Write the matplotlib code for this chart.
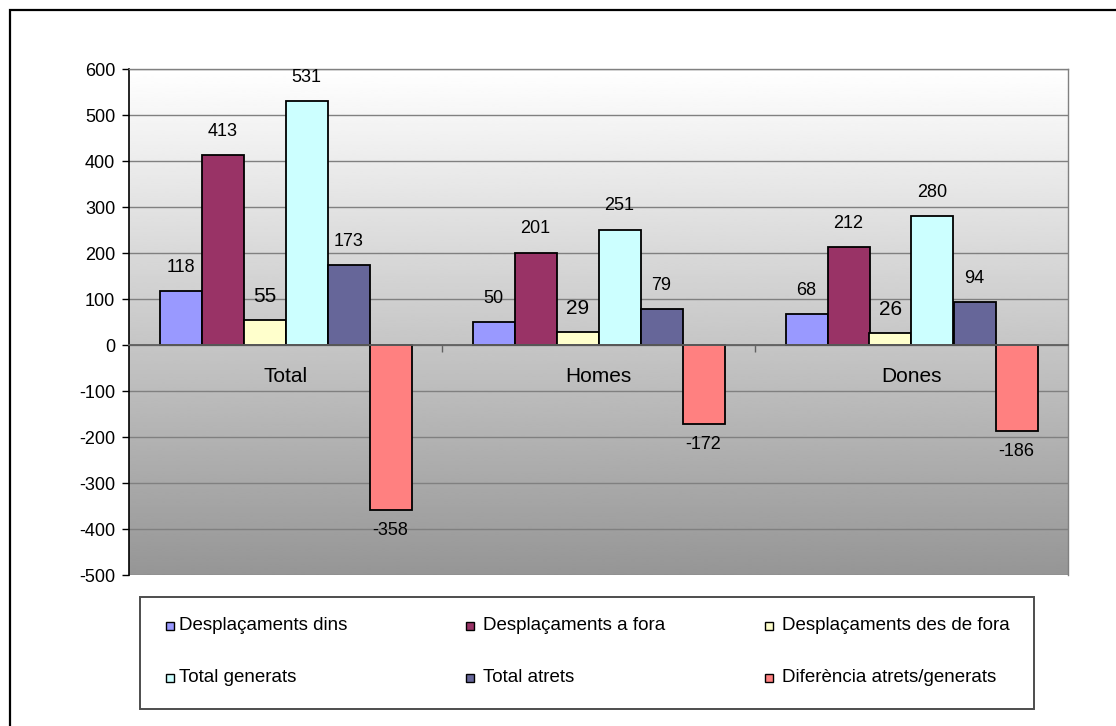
import numpy as np
import matplotlib
matplotlib.use("Agg")
import matplotlib.pyplot as plt
from matplotlib.patches import Rectangle

plt.rcParams['font.family'] = ['Liberation Sans', 'DejaVu Sans']
plt.rcParams['axes.unicode_minus'] = False

# ---- data ----
categories = ['Total', 'Homes', 'Dones']
series_names = ['Desplaçaments dins', 'Desplaçaments a fora', 'Desplaçaments des de fora',
                'Total generats', 'Total atrets', 'Diferència atrets/generats']
desp_dins = [118, 50, 68]
desp_a_fora = [413, 201, 212]
desp_des_de_fora = [55, 29, 26]
total_generats = [531, 251, 280]
total_atrets = [173, 79, 94]
diferencia = [-358, -172, -186]
y_ticks = [600, 500, 400, 300, 200, 100, 0, -100, -200, -300, -400, -500]

series_values = [desp_dins, desp_a_fora, desp_des_de_fora,
                 total_generats, total_atrets, diferencia]
series_colors = ['#9999FF', '#993366', '#FFFFCC', '#CCFFFF', '#666699', '#FF8080']

W, H = 1116, 726
fig = plt.figure(figsize=(W / 100, H / 100), dpi=100)
fig.patch.set_facecolor('white')

def fx(px):
    return px / W

def fy(py):
    return 1 - py / H

# plot area
ax = fig.add_axes([fx(129), fy(575), fx(1068) - fx(129), fy(69) - fy(575)])
ymin, ymax = -500, 600
xmin, xmax = -0.5, len(categories) - 0.5
ax.set_xlim(xmin, xmax)
ax.set_ylim(ymin, ymax)

# vertical gradient background (white at top, grey at bottom)
grad = np.linspace(0.588, 1.0, 256).reshape(-1, 1)
ax.imshow(grad, extent=[xmin, xmax, ymin, ymax], origin='lower', aspect='auto',
          cmap='gray', vmin=0, vmax=1, zorder=0, interpolation='bilinear')

# gridlines
ax.set_yticks(y_ticks)
ax.yaxis.grid(True, color='#808080', linewidth=1.0, zorder=0.5)
ax.set_axisbelow(True)

# bars
n = len(series_values)
bar_w = 42 / 313
x = np.arange(len(categories))
for i, (vals, col, name) in enumerate(zip(series_values, series_colors, series_names)):
    pos = x + (i - (n - 1) / 2) * bar_w
    ax.bar(pos, vals, width=bar_w, color=col, edgecolor='black', linewidth=1.3,
           zorder=3, label=name)
    fsize = 15 if i == 2 else 13
    for xp, v in zip(pos, vals):
        off = 17 if v >= 0 else -15
        ax.annotate(str(v), (xp, v), xytext=(0, off), textcoords='offset points',
                    ha='center', va='center', fontsize=fsize, color='black', zorder=5)

# axes styling
for s in ['top', 'right']:
    ax.spines[s].set_color('#808080')
    ax.spines[s].set_linewidth(1.0)
ax.spines['left'].set_color('black')
ax.spines['left'].set_linewidth(1.2)
ax.spines['bottom'].set_position(('data', 0))
ax.spines['bottom'].set_color('#606060')
ax.spines['bottom'].set_linewidth(1.3)
ax.spines['bottom'].set_zorder(4)

ax.tick_params(axis='y', direction='out', length=5, width=1.0, pad=5,
               labelsize=13, colors='black')

# category axis: ticks at category boundaries, labels at centres
ax.set_xticks(np.arange(len(categories) - 1) + 0.5)
ax.set_xticklabels([])
ax.tick_params(axis='x', which='major', direction='out', length=5, width=1.0,
               color='#606060')
ax.set_xticks(x, minor=True)
ax.set_xticklabels(categories, minor=True)
ax.tick_params(axis='x', which='minor', length=0, pad=16, labelsize=15)

# legend box
fig.patches.append(Rectangle((fx(140), fy(709)), fx(1034) - fx(140), fy(597) - fy(709),
                             transform=fig.transFigure, facecolor='white',
                             edgecolor='#4d4d4d', linewidth=1.4, zorder=1))
col_marker_x = [166, 466, 765]
col_text_x = [179, 483, 782]
row_y = [626, 678]
msize = 8
for i, (name, col) in enumerate(zip(series_names, series_colors)):
    c, r = i % 3, i // 3
    fig.patches.append(Rectangle((fx(col_marker_x[c]), fy(row_y[r] + msize / 2)),
                                 fx(msize), msize / H, transform=fig.transFigure,
                                 facecolor=col, edgecolor='black', linewidth=1.0, zorder=2))
    fig.text(fx(col_text_x[c]), fy(row_y[r]), name, ha='left', va='center',
             fontsize=13.5, color='black')

# outer chart frame
fig.patches.append(Rectangle((fx(10), fy(H + 20)), 1.2, fy(10) - fy(H + 20),
                             transform=fig.transFigure, facecolor='none',
                             edgecolor='black', linewidth=1.6, zorder=0))

fig.savefig('out.png', dpi=100, facecolor='white')
